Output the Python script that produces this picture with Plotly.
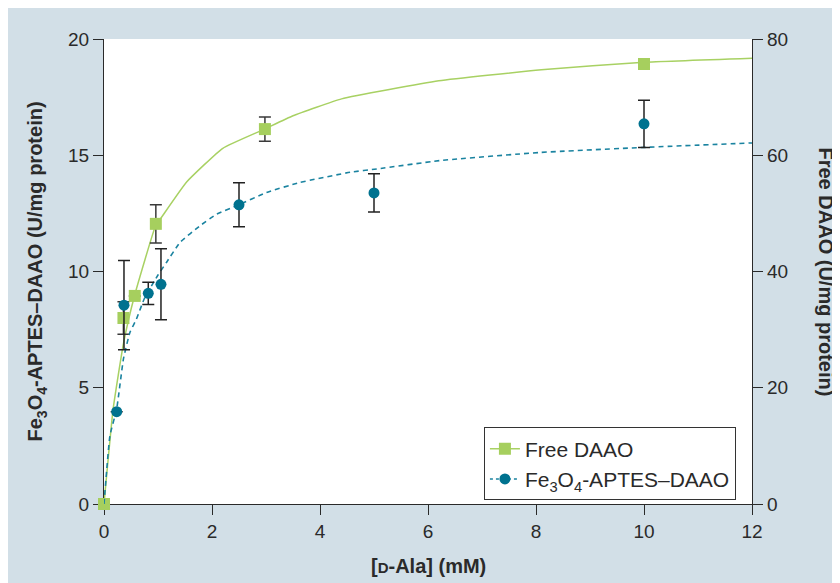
import plotly.graph_objects as go

# ---- data ----
# Free DAAO (right axis, U/mg protein)
free_x = [0, 0.36, 0.57, 0.96, 2.98, 10.0]
free_y = [0, 32.0, 35.8, 48.2, 64.5, 75.7]
free_err = [0, 2.8, 0, 3.3, 2.1, 0]
free_fit_x = [0, 0.17, 0.36, 0.57, 0.96, 1.04, 1.53, 2.2, 2.95, 3.5, 4.4, 6.2, 8.1, 10.0, 12.0]
free_fit_y = [0, 16.4, 27.6, 36.0, 48.0, 49.0, 55.4, 61.2, 64.4, 66.8, 69.7, 72.8, 74.7, 76.0, 76.7]

# Fe3O4-APTES-DAAO (left axis, U/mg protein)
imm_x = [0.235, 0.37, 0.82, 1.055, 2.5, 5.0, 10.0]
imm_y = [3.97, 8.55, 9.06, 9.45, 12.87, 13.38, 16.35]
imm_err = [0, 1.92, 0.48, 1.53, 0.95, 0.82, 1.02]
imm_fit_x = [0, 0.11, 0.235, 0.36, 0.48, 0.6, 0.75, 1.0, 1.16, 1.41, 1.78, 2.09, 2.46, 3.01, 3.63, 4.56, 5.05, 6.22, 8.07, 10.02, 12.0]
imm_fit_y = [0, 2.94, 4.09, 6.24, 7.38, 7.95, 8.85, 9.85, 10.4, 11.26, 11.97, 12.47, 12.83, 13.4, 13.83, 14.27, 14.41, 14.77, 15.12, 15.34, 15.53]

x_ticks = [0, 2, 4, 6, 8, 10, 12]
left_ticks = [0, 5, 10, 15, 20]
right_ticks = [0, 20, 40, 60, 80]

GREEN = "#a6cf5e"
GREEN_LINE = "#a8d163"
TEAL = "#00728f"
TEAL_LINE = "#1a83a0"
BG = "#d2dfe7"
INK = "#2a2a2a"
FONT = "Arial, Liberation Sans, sans-serif"

fig = go.Figure()

# legend-only entries
fig.add_trace(go.Scatter(x=[None], y=[None], mode="lines+markers", name="Free DAAO",
                         line=dict(color=GREEN_LINE, width=1.5),
                         marker=dict(symbol="square", size=12, color=GREEN), yaxis="y"))
fig.add_trace(go.Scatter(x=[None], y=[None], mode="lines+markers",
                         name="Fe<sub>3</sub>O<sub>4</sub>-APTES–DAAO",
                         line=dict(color=TEAL_LINE, width=1.5, dash="3px,3px"),
                         marker=dict(symbol="circle", size=11, color=TEAL), yaxis="y2"))

# Free DAAO (right axis)
fig.add_trace(go.Scatter(x=free_fit_x, y=free_fit_y, mode="lines", showlegend=False,
                         line=dict(color=GREEN_LINE, width=1.5, shape="spline", smoothing=0.4),
                         yaxis="y", hoverinfo="skip"))
fig.add_trace(go.Scatter(x=free_x, y=free_y, mode="markers", showlegend=False,
                         marker=dict(symbol="square", size=12, color=GREEN),
                         error_y=dict(type="data", array=free_err, color="#3a3a3a", thickness=1.5, width=6),
                         yaxis="y", cliponaxis=False))

# Fe3O4-APTES-DAAO (left axis)
fig.add_trace(go.Scatter(x=imm_fit_x, y=imm_fit_y, mode="lines", showlegend=False,
                         line=dict(color=TEAL_LINE, width=1.6, dash="5px,4px", shape="spline", smoothing=0.4),
                         yaxis="y2", hoverinfo="skip"))
fig.add_trace(go.Scatter(x=imm_x, y=imm_y, mode="markers", showlegend=False,
                         marker=dict(symbol="circle", size=11, color=TEAL),
                         error_y=dict(type="data", array=imm_err, color="#222222", thickness=1.5, width=6),
                         yaxis="y2", cliponaxis=False))

axis_common = dict(showgrid=False, zeroline=False, showline=True, linecolor=INK, linewidth=1.2,
                   ticks="outside", ticklen=10, tickwidth=1.2, tickcolor=INK,
                   tickfont=dict(family=FONT, size=19, color=INK), layer="below traces")

fig.update_layout(
    width=840, height=583,
    margin=dict(l=96, r=96, t=31, b=87),
    paper_bgcolor=BG, plot_bgcolor="white",
    font=dict(family=FONT, color=INK),
    xaxis=dict(range=[0, 12], tickvals=x_ticks, **axis_common),
    yaxis=dict(range=[0, 80], tickvals=right_ticks, side="right", anchor="x", **axis_common),
    yaxis2=dict(range=[0, 20], tickvals=left_ticks, side="left", overlaying="y", anchor="x", **axis_common),
    legend=dict(x=0.586, y=0.165, xanchor="left", yanchor="top",
                bgcolor="white", bordercolor="#333333", borderwidth=1.2,
                font=dict(family=FONT, size=21, color=INK),
                itemwidth=30, tracegroupgap=0),
    showlegend=True,
    annotations=[
        dict(text="<b>Fe<sub>3</sub>O<sub>4</sub>-APTES–DAAO (U/mg protein)</b>",
             xref="paper", yref="paper", x=-0.1034, y=0.5, xanchor="center", yanchor="middle",
             textangle=-90, showarrow=False, font=dict(family=FONT, size=20, color=INK)),
        dict(text="<b>Free DAAO (U/mg protein)</b>",
             xref="paper", yref="paper", x=1.1142, y=0.5, xanchor="center", yanchor="middle",
             textangle=90, showarrow=False, font=dict(family=FONT, size=20, color=INK)),
        dict(text="<b>[<span style='font-size:15px'>D</span>-Ala] (mM)</b>",
             xref="paper", yref="paper", x=0.5, y=-0.1333, xanchor="center", yanchor="middle",
             showarrow=False, font=dict(family=FONT, size=20, color=INK)),
    ],
)

fig.write_html("out.html")
